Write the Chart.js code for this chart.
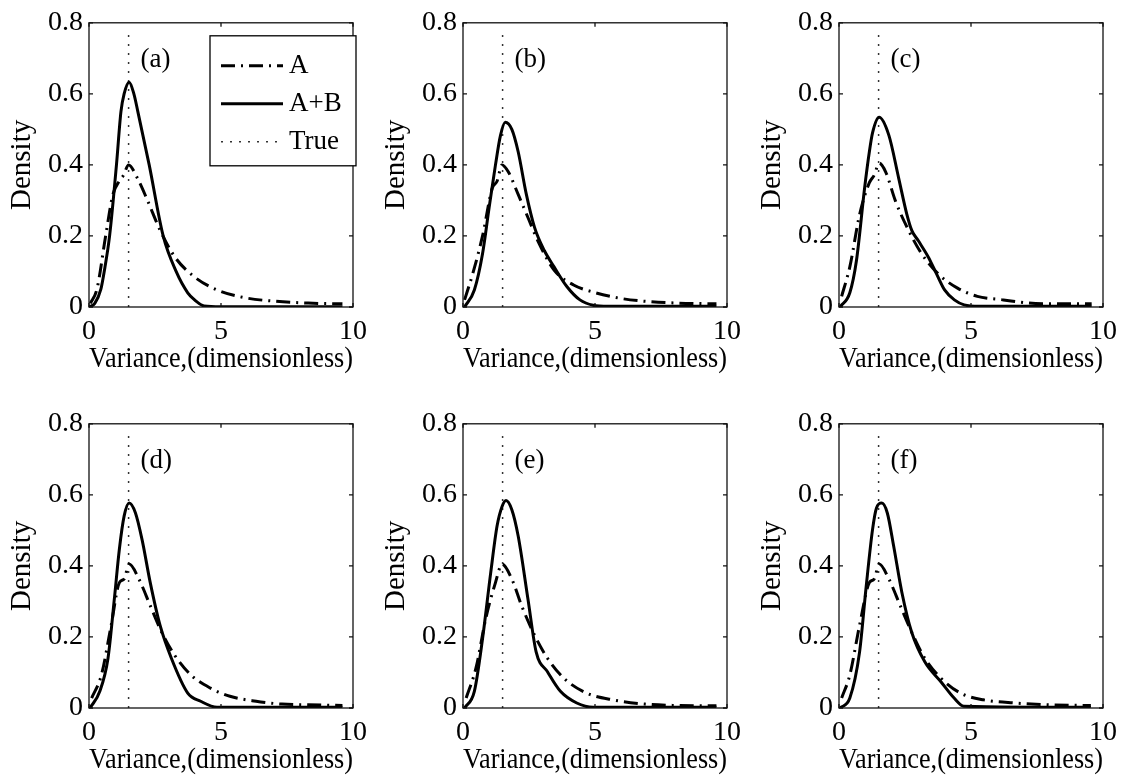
<!DOCTYPE html>
<html>
<head>
<meta charset="utf-8">
<script src="https://cdn.jsdelivr.net/npm/chart.js@4.4.0/dist/chart.umd.min.js"></script>
<style>
  body { margin: 0; background: #fff; }
  canvas { position: absolute; }
</style>
</head>
<body>
<canvas id="pa" width="375" height="377" style="left:0px;top:0px"></canvas>
<canvas id="pb" width="375" height="377" style="left:374px;top:0px"></canvas>
<canvas id="pc" width="375" height="377" style="left:750px;top:0px"></canvas>
<canvas id="pd" width="375" height="377" style="left:0px;top:401px"></canvas>
<canvas id="pe" width="375" height="377" style="left:374px;top:401px"></canvas>
<canvas id="pf" width="375" height="377" style="left:750px;top:401px"></canvas>
<script>
// dane: [x, gestosc]
const xTicks = [0, 5, 10];
const yTicks = [0, 0.2, 0.4, 0.6, 0.8];
const trueValue = 1.5;
const trueTop = 0.78;
const panelLabels = ['(a)', '(b)', '(c)', '(d)', '(e)', '(f)'];
const seriesNames = ['A', 'A+B', 'True'];

const aA = [[0.05,0.01],[0.3,0.05],[0.63,0.2],[0.9,0.315],[1.15,0.355],[1.3,0.37],[1.5,0.4],[1.83,0.363],[2.2,0.303],[2.7,0.215],[3.25,0.141],[3.99,0.085],[4.85,0.048],[5.84,0.027],[7.07,0.016],[8.3,0.011],[9.6,0.009]];
const aAB = [[0,0],[0.22,0.01],[0.45,0.05],[0.6,0.11],[0.78,0.2],[1.04,0.4],[1.21,0.55],[1.33,0.6],[1.52,0.633],[1.7,0.6],[1.85,0.55],[2.28,0.4],[2.81,0.2],[3.3,0.1],[3.74,0.04],[4.0,0.02],[4.36,0.003],[5,0.001],[9.6,0.001]];

const bA = [[0.06,0.02],[0.37,0.094],[0.74,0.2],[1.11,0.335],[1.29,0.354],[1.48,0.4],[1.72,0.38],[2.09,0.317],[2.46,0.252],[2.83,0.187],[3.45,0.104],[4.19,0.062],[4.93,0.042],[5.91,0.025],[6.9,0.016],[8.13,0.011],[9.6,0.009]];
const bAB = [[0.06,0],[0.43,0.048],[0.74,0.15],[0.99,0.28],[1.23,0.4],[1.42,0.483],[1.6,0.52],[1.85,0.5],[2.09,0.437],[2.4,0.317],[2.71,0.224],[3.08,0.159],[3.45,0.113],[3.94,0.057],[4.43,0.02],[4.93,0.005],[5.5,0.002],[9.6,0.002]];

const cA = [[0.1,0.03],[0.41,0.113],[0.78,0.26],[1.15,0.35],[1.34,0.372],[1.52,0.405],[1.77,0.38],[2.14,0.298],[2.64,0.215],[3.13,0.15],[3.75,0.094],[4.49,0.053],[5.24,0.03],[6.23,0.02],[7.2,0.011],[8.2,0.009],[9.57,0.009]];
const cAB = [[0.04,0],[0.41,0.04],[0.66,0.13],[0.97,0.335],[1.15,0.437],[1.27,0.49],[1.52,0.534],[1.89,0.483],[2.26,0.363],[2.57,0.261],[2.76,0.215],[3.0,0.187],[3.38,0.141],[3.69,0.094],[4.0,0.048],[4.37,0.02],[4.74,0.006],[5.3,0.002],[9.57,0.002]];

const dA = [[0.1,0.028],[0.47,0.093],[0.84,0.233],[1.15,0.353],[1.33,0.363],[1.52,0.405],[1.89,0.363],[2.32,0.288],[2.75,0.214],[3.24,0.149],[3.86,0.093],[4.6,0.056],[5.34,0.033],[6.33,0.019],[7.31,0.011],[8.3,0.009],[9.6,0.007]];
const dAB = [[0.04,0],[0.41,0.047],[0.72,0.14],[0.96,0.307],[1.15,0.447],[1.33,0.54],[1.52,0.577],[1.76,0.549],[2.01,0.474],[2.32,0.353],[2.69,0.233],[3.12,0.14],[3.74,0.042],[4.23,0.019],[4.85,0.002],[9.6,0.002]];

const eA = [[0.12,0.028],[0.49,0.112],[0.86,0.251],[1.23,0.353],[1.48,0.405],[1.85,0.363],[2.22,0.288],[2.71,0.205],[3.2,0.14],[3.82,0.084],[4.68,0.042],[5.67,0.023],[6.9,0.011],[8.13,0.007],[9.6,0.006]];
const eAB = [[0.06,0],[0.43,0.047],[0.74,0.195],[1.05,0.381],[1.29,0.512],[1.48,0.567],[1.63,0.584],[1.85,0.558],[2.09,0.484],[2.46,0.307],[2.77,0.158],[3.2,0.102],[3.69,0.047],[4.31,0.014],[4.93,0.002],[9.6,0.002]];

const fA = [[0.1,0.028],[0.41,0.093],[0.78,0.233],[1.15,0.353],[1.33,0.363],[1.52,0.405],[1.89,0.363],[2.32,0.288],[2.75,0.214],[3.25,0.14],[3.86,0.084],[4.6,0.042],[5.47,0.023],[6.7,0.014],[7.9,0.009],[9.54,0.007]];
const fAB = [[0.04,0],[0.41,0.028],[0.78,0.158],[1.02,0.335],[1.27,0.502],[1.42,0.563],[1.62,0.577],[1.83,0.549],[2.07,0.456],[2.38,0.326],[2.75,0.214],[3.25,0.13],[3.86,0.074],[4.36,0.028],[4.73,0.005],[9.54,0.002]];

const serif = '"Liberation Serif", "Times New Roman", serif';

function toPoints(arr) {
  return arr.map(p => ({x: p[0], y: p[1]}));
}

// ramka z kreskami do srodka
const framePlugin = {
  id: 'frame',
  afterDatasetsDraw(chart) {
    const {ctx, chartArea, scales} = chart;
    const {left, right, top, bottom} = chartArea;
    ctx.save();
    ctx.strokeStyle = '#111';
    ctx.lineWidth = 1.3;
    ctx.setLineDash([]);
    ctx.strokeRect(left, top, right - left, bottom - top);
    ctx.beginPath();
    xTicks.forEach(v => {
      const px = scales.x.getPixelForValue(v);
      ctx.moveTo(px, bottom); ctx.lineTo(px, bottom - 4);
      ctx.moveTo(px, top); ctx.lineTo(px, top + 4);
    });
    yTicks.forEach(v => {
      const py = scales.y.getPixelForValue(v);
      ctx.moveTo(left, py); ctx.lineTo(left + 4, py);
      ctx.moveTo(right, py); ctx.lineTo(right - 4, py);
    });
    ctx.stroke();
    ctx.restore();
  }
};

// podpis panelu (a), (b) ...
const labelPlugin = {
  id: 'panelLabel',
  afterDraw(chart, args, opts) {
    const {ctx, scales} = chart;
    ctx.save();
    ctx.fillStyle = '#000';
    ctx.font = '27px ' + serif;
    ctx.textAlign = 'left';
    ctx.textBaseline = 'middle';
    ctx.fillText(opts.text, scales.x.getPixelForValue(1.95), scales.y.getPixelForValue(0.695));
    ctx.restore();
  }
};

// legenda w ramce, tylko w (a)
const legendBoxPlugin = {
  id: 'legendBox',
  afterDraw(chart, args, opts) {
    if (!opts.show) return;
    const {ctx, chartArea} = chart;
    const bx = chartArea.left + 121, by = chartArea.top + 13, bw = 146, bh = 130;
    ctx.save();
    ctx.fillStyle = '#fff';
    ctx.fillRect(bx, by, bw, bh);
    ctx.strokeStyle = '#000';
    ctx.lineWidth = 1.3;
    ctx.strokeRect(bx, by, bw, bh);
    chart.data.datasets.forEach((ds, i) => {
      const cy = by + 30 + i * 38;
      ctx.setLineDash(ds.borderDash || []);
      ctx.lineWidth = ds.borderWidth;
      ctx.strokeStyle = ds.borderColor;
      ctx.beginPath();
      ctx.moveTo(bx + 11, cy);
      ctx.lineTo(bx + 73, cy);
      ctx.stroke();
      ctx.setLineDash([]);
      ctx.fillStyle = '#000';
      ctx.font = '27px ' + serif;
      ctx.textBaseline = 'middle';
      ctx.fillText(ds.label, bx + 79, cy);
    });
    ctx.restore();
  }
};

function makePanel(id, label, dataA, dataAB, showLegend) {
  let ctx = document.getElementById(id).getContext('2d');
  return new Chart(ctx, {
    type: 'line',
    data: {
      datasets: [{
        label: seriesNames[0],
        data: toPoints(dataA),
        borderColor: '#000',
        borderWidth: 3,
        borderDash: [14, 6, 2, 6],
        pointRadius: 0,
        cubicInterpolationMode: 'monotone',
        fill: false
      }, {
        label: seriesNames[1],
        data: toPoints(dataAB),
        borderColor: '#000',
        borderWidth: 3,
        pointRadius: 0,
        cubicInterpolationMode: 'monotone',
        fill: false
      }, {
        label: seriesNames[2],
        data: [{x: trueValue, y: 0}, {x: trueValue, y: trueTop}],
        borderColor: '#333',
        borderWidth: 1.5,
        borderDash: [2, 7],
        pointRadius: 0,
        fill: false
      }]
    },
    options: {
      responsive: false,
      animation: false,
      layout: { padding: { top: 19, right: 16, left: 0, bottom: 0 } },
      plugins: {
        legend: { display: false },
        tooltip: { enabled: false },
        panelLabel: { text: label },
        legendBox: { show: showLegend }
      },
      scales: {
        x: {
          type: 'linear',
          min: 0,
          max: 10,
          afterBuildTicks: s => { s.ticks = xTicks.map(v => ({value: v})); },
          afterFit: s => { s.height = 70; },
          grid: { display: false, drawTicks: false },
          border: { display: false },
          ticks: { color: '#000', font: { family: serif, size: 28 }, padding: 8, maxRotation: 0, autoSkip: false },
          title: { display: true, text: 'Variance,(dimensionless)', color: '#000', font: { family: serif, size: 30 }, padding: 0 }
        },
        y: {
          min: 0,
          max: 0.8,
          afterBuildTicks: s => { s.ticks = yTicks.map(v => ({value: v})); },
          afterFit: s => { s.width = 89; },
          grid: { display: false, drawTicks: false },
          border: { display: false },
          ticks: { color: '#000', font: { family: serif, size: 28 }, padding: 6, callback: v => String(v) },
          title: { display: true, text: 'Density', color: '#000', font: { family: serif, size: 29 }, padding: { top: 5, bottom: 0 } }
        }
      }
    },
    plugins: [framePlugin, labelPlugin, legendBoxPlugin]
  });
}

makePanel('pa', panelLabels[0], aA, aAB, true);
makePanel('pb', panelLabels[1], bA, bAB, false);
makePanel('pc', panelLabels[2], cA, cAB, false);
makePanel('pd', panelLabels[3], dA, dAB, false);
makePanel('pe', panelLabels[4], eA, eAB, false);
makePanel('pf', panelLabels[5], fA, fAB, false);
</script>
</body>
</html>
